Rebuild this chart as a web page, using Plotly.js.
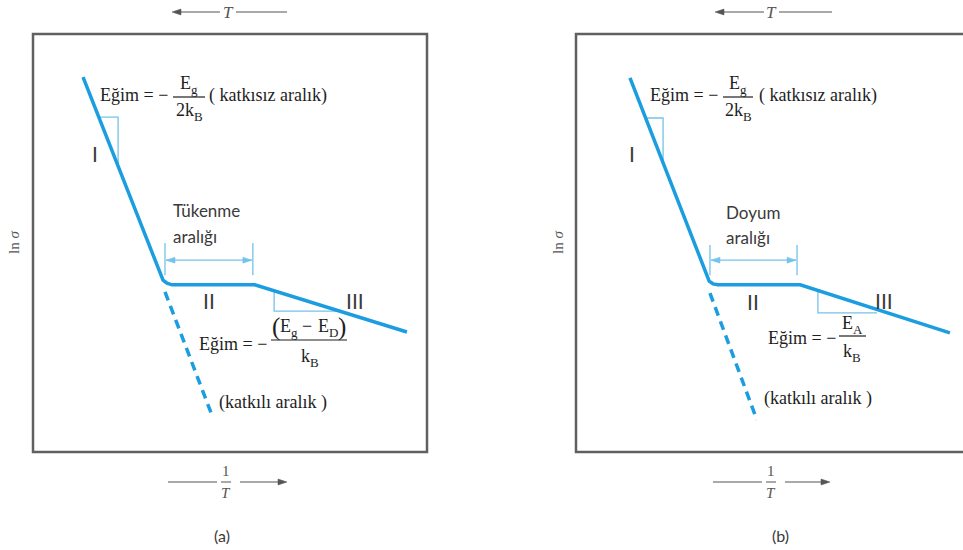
<!DOCTYPE html>
<html>
<head>
<meta charset="utf-8">
<script src="https://cdn.plot.ly/plotly-3.0.1.min.js"></script>
<style>
  html, body { margin: 0; padding: 0; background: #fff; }
  #chart { width: 963px; height: 550px; }
</style>
</head>
<body>
<div id="chart"></div>
<script>
// ---- conductivity curves, 1/T (arb. units) vs ln sigma (arb. units) ----
// panel (a): intrinsic -> depletion (tükenme) -> extrinsic donor region
const invT_a   = [1.27, 3.22, 3.30, 3.40, 3.53, 5.63, 9.49];
const lnSig_a  = [8.97, 4.26, 4.11, 4.04, 4.00, 4.00, 2.87];
const invT_aD  = [3.35, 4.57];          // dashed extension (katkılı aralık)
const lnSig_aD = [3.83, 0.81];
const slopeI_a_x   = [1.65, 2.16, 2.16];
const slopeI_a_y   = [8.01, 8.01, 6.82];
const slopeIII_a_x = [6.12, 6.12, 7.77];
const slopeIII_a_y = [3.85, 3.37, 3.37];
const span_a_x = [3.35, 5.58];          // tükenme aralığı bounds
const span_a_y = [5.00, 4.23];
const span_a_arrowY = 4.59;

// panel (b): intrinsic -> saturation (doyum) -> extrinsic acceptor region
const invT_b   = [1.37, 3.30, 3.38, 3.48, 3.60, 5.69, 9.49];
const lnSig_b  = [8.95, 4.23, 4.09, 4.02, 4.00, 4.00, 2.85];
const invT_bD  = [3.40, 4.59];
const lnSig_bD = [3.80, 0.77];
const slopeI_b_x   = [1.75, 2.21, 2.21];
const slopeI_b_y   = [7.99, 7.99, 6.91];
const slopeIII_b_x = [6.14, 6.14, 7.64];
const slopeIII_b_y = [3.85, 3.33, 3.33];
const span_b_x = [3.40, 5.61];
const span_b_y = [4.95, 4.23];
const span_b_arrowY = 4.59;

const regionLabels = ['I', 'II', 'III'];

// ---- page geometry (paper == pixels) ----
const W = 963, H = 550;
const px = x => x / W;
const py = y => 1 - y / H;

const BOX_TOP = 34, BOX_BOT = 452, BOX_W = 394, BOX_H = BOX_BOT - BOX_TOP;
const A_LEFT = 33, B_LEFT = 576;
const UNITS = 10;                    // axis span over one full box width/height
const unitPx = BOX_W / UNITS;
const unitPy = BOX_H / UNITS;

const BLUE = '#1b9de0';
const GUIDE = '#74c3e8';
const INK = '#1e1e1e';
const SANS_INK = '#3a3a3a';
const GRAY = '#555555';
const SERIF_NAME = 'Liberation Serif';
const SERIF = 'Liberation Serif, Times New Roman, serif';
const SANS = 'Lato, Liberation Sans, sans-serif';

function axis(left) {
  const right = Math.min(left + BOX_W, W);
  return { domain: [px(left), px(right)], range: [0, (right - left) / unitPx], visible: false, fixedrange: true };
}
function yaxis() {
  return { domain: [py(BOX_BOT), py(BOX_TOP)], range: [0, UNITS], visible: false, fixedrange: true };
}

function panelTraces(xa, ya, curveX, curveY, dashX, dashY, sIx, sIy, sIIIx, sIIIy, spanX, spanY) {
  return [
    { x: sIx, y: sIy, xaxis: xa, yaxis: ya, mode: 'lines', line: { color: GUIDE, width: 1.3 }, hoverinfo: 'skip' },
    { x: sIIIx, y: sIIIy, xaxis: xa, yaxis: ya, mode: 'lines', line: { color: GUIDE, width: 1.3 }, hoverinfo: 'skip' },
    { x: [spanX[0], spanX[0], null, spanX[1], spanX[1]],
      y: [spanY[0], spanY[1], null, spanY[0], spanY[1]],
      xaxis: xa, yaxis: ya, mode: 'lines', line: { color: GUIDE, width: 1.3 }, hoverinfo: 'skip' },
    { x: dashX, y: dashY, xaxis: xa, yaxis: ya, mode: 'lines', line: { color: BLUE, width: 3.5, dash: '9px,6px' }, hoverinfo: 'skip' },
    { x: curveX, y: curveY, xaxis: xa, yaxis: ya, mode: 'lines', line: { color: BLUE, width: 3.5 }, hoverinfo: 'skip' }
  ];
}

const traces = []
  .concat(panelTraces('x', 'y', invT_a, lnSig_a, invT_aD, lnSig_aD, slopeI_a_x, slopeI_a_y, slopeIII_a_x, slopeIII_a_y, span_a_x, span_a_y))
  .concat(panelTraces('x2', 'y2', invT_b, lnSig_b, invT_bD, lnSig_bD, slopeI_b_x, slopeI_b_y, slopeIII_b_x, slopeIII_b_y, span_b_x, span_b_y));

// ---- text / arrow helpers ----
function txt(x, y, text, font, extra) {
  return Object.assign({
    xref: 'paper', yref: 'paper', x: px(x), y: py(y), text: text,
    showarrow: false, xanchor: 'center', yanchor: 'middle', font: font,
    borderpad: 0, borderwidth: 0
  }, extra || {});
}
const fSerif = { family: SERIF, size: 18, color: INK };
const fSans = { family: SANS, size: 17, color: SANS_INK };
const fRoman = { family: SANS, size: 21, color: SANS_INK };
const fAxis = { family: SERIF, size: 17, color: GRAY };
const fFrac = { family: SERIF, size: 15, color: GRAY };

const annotations = [];
const shapes = [];

// measure text so formula pieces (base letters, subscripts, big brackets) line up
const mctx = document.createElement('canvas').getContext('2d');
function textWidth(t, size) {
  mctx.font = `${size}px "${SERIF_NAME}"`;
  return mctx.measureText(t).width;
}
// pieces: [text, size, dy] or a number = horizontal gap in px
function mathRun(cx, y, pieces) {
  const widths = pieces.map(p => typeof p === 'number' ? p : textWidth(p[0], p[1]));
  const total = widths.reduce((a, b) => a + b, 0);
  let x = cx - total / 2;
  pieces.forEach((p, i) => {
    if (typeof p !== 'number') {
      annotations.push(txt(x, y + (p[2] || 0), p[0], { family: SERIF, size: p[1], color: INK }, { xanchor: 'left' }));
    }
    x += widths[i];
  });
}
const SUB = 13, SUB_DY = 6;

function hline(x0, x1, y, color, width) {
  shapes.push({ type: 'line', xref: 'paper', yref: 'paper', x0: px(x0), x1: px(x1), y0: py(y), y1: py(y),
                line: { color: color, width: width } });
}
// filled arrowhead with its tip at (x, y); dir = +1 points right, -1 points left
function head(x, y, dir, len, half, color) {
  const b = x - dir * len;
  shapes.push({ type: 'path', xref: 'paper', yref: 'paper',
    path: `M ${px(x)},${py(y)} L ${px(b)},${py(y - half)} L ${px(b)},${py(y + half)} Z`,
    fillcolor: color, line: { color: color, width: 0.5 } });
}
function spanArrow(left, xs, yv) {
  const x0 = left + xs[0] * unitPx, x1 = left + xs[1] * unitPx;
  const y = BOX_BOT - yv * unitPy;
  hline(x0 + 1, x1 - 1, y, GUIDE, 1.3);
  head(x0 + 1, y, -1, 9, 3, GUIDE);
  head(x1 - 1, y, 1, 9, 3, GUIDE);
}

// frames (panel b runs past the right page edge)
[A_LEFT, B_LEFT].forEach(left => {
  shapes.push({ type: 'rect', xref: 'paper', yref: 'paper',
    x0: px(left), x1: px(left + BOX_W), y0: py(BOX_BOT), y1: py(BOX_TOP),
    line: { color: '#606060', width: 2.5 }, fillcolor: 'rgba(0,0,0,0)' });
});

function panelLabels(p) {
  // T axis (top), arrow pointing to higher T
  hline(p.tArrow[0] + 4, p.tArrow[1], 12, GRAY, 1.2);
  head(p.tArrow[0], 12, -1, 9, 3, GRAY);
  hline(p.tLine[0], p.tLine[1], 12, GRAY, 1.2);
  annotations.push(txt(p.tText, 12, '<i>T</i>', fAxis));
  // 1/T axis (bottom)
  hline(p.invLine[0], p.invLine[1], 482, GRAY, 1.2);
  hline(p.invArrow[0], p.invArrow[1] - 4, 482, GRAY, 1.2);
  head(p.invArrow[1], 482, 1, 9, 3, GRAY);
  annotations.push(txt(p.invText, 471, '1', fFrac));
  hline(p.invText - 5, p.invText + 5, 482, GRAY, 1);
  annotations.push(txt(p.invText, 493, '<i>T</i>', fFrac));
  // ln sigma
  annotations.push(txt(p.lnX, 243, 'ln <i>σ</i>', { family: SERIF, size: 15, color: GRAY }, { textangle: -90 }));
  // panel tag
  annotations.push(txt(p.tagX, 535, p.tag, { family: SANS, size: 16, color: SANS_INK }));
  // region numerals
  annotations.push(txt(p.I[0], p.I[1], regionLabels[0], fRoman));
  annotations.push(txt(p.II[0], p.II[1], regionLabels[1], fRoman));
  annotations.push(txt(p.III[0], p.III[1], regionLabels[2], fRoman));
  // intrinsic slope formula: −Eg / 2kB
  annotations.push(txt(p.top.left, 95, 'Eğim = −', fSerif, { xanchor: 'left' }));
  hline(p.top.bar[0], p.top.bar[1], 97, INK, 1.2);
  const c = (p.top.bar[0] + p.top.bar[1]) / 2;
  mathRun(c, 83, [['E', 18], ['g', SUB, SUB_DY]]);
  mathRun(c, 110, [['2k', 18], ['B', SUB, SUB_DY]]);
  annotations.push(txt(p.top.note, 95, '( katkısız aralık)', fSerif, { xanchor: 'left' }));
  // region name
  annotations.push(txt(p.name.x, p.name.y1, p.name.l1, fSans, { xanchor: 'left' }));
  annotations.push(txt(p.name.x, p.name.y2, 'aralığı', fSans, { xanchor: 'left' }));
  // extrinsic note
  annotations.push(txt(p.doped[0], p.doped[1], '(katkılı aralık )', fSerif, { xanchor: 'left' }));
}

panelLabels({
  tArrow: [172, 220], tLine: [236, 287], tText: 228,
  invLine: [168, 217], invArrow: [240, 287], invText: 226,
  lnX: 14, tagX: 222, tag: '(a)',
  I: [95, 153], II: [209, 300], III: [355, 300],
  top: { left: 100, bar: [173, 205], note: 209 },
  name: { x: 173, y1: 210, y2: 236, l1: 'Tükenme' },
  doped: [219, 402]
});
panelLabels({
  tArrow: [715, 764], tLine: [779, 832], tText: 771,
  invLine: [713, 762], invArrow: [785, 830], invText: 771,
  lnX: 558, tagX: 780, tag: '(b)',
  I: [632, 153], II: [753, 301], III: [884, 300],
  top: { left: 650, bar: [723, 753], note: 759 },
  name: { x: 726, y1: 213, y2: 237, l1: 'Doyum' },
  doped: [764, 398]
});

// panel (a) extrinsic slope: −(Eg − ED) / kB
annotations.push(txt(199, 344, 'Eğim = −', fSerif, { xanchor: 'left' }));
hline(271, 347, 340, INK, 1.2);
mathRun(309, 326, [['(', 25, 1], ['E', 18], ['g', SUB, SUB_DY], 5, ['−', 18], 5, ['E', 18], ['D', SUB, SUB_DY], [')', 25, 1]]);
mathRun(310, 356, [['k', 18], ['B', SUB, SUB_DY]]);

// panel (b) extrinsic slope: −EA / kB
annotations.push(txt(768, 338, 'Eğim = −', fSerif, { xanchor: 'left' }));
hline(839, 866, 336, INK, 1.2);
mathRun(852, 323, [['E', 18], ['A', SUB, SUB_DY]]);
mathRun(852, 351, [['k', 18], ['B', SUB, SUB_DY]]);

// tükenme / doyum span arrows
spanArrow(A_LEFT, span_a_x, span_a_arrowY);
spanArrow(B_LEFT, span_b_x, span_b_arrowY);

const layout = {
  width: W, height: H,
  margin: { l: 0, r: 0, t: 0, b: 0, pad: 0 },
  paper_bgcolor: '#ffffff', plot_bgcolor: 'rgba(0,0,0,0)',
  showlegend: false,
  xaxis: axis(A_LEFT), yaxis: yaxis(),
  xaxis2: Object.assign(axis(B_LEFT), { anchor: 'y2' }),
  yaxis2: Object.assign(yaxis(), { anchor: 'x2' }),
  annotations: annotations,
  shapes: shapes
};

Plotly.newPlot('chart', traces, layout, { staticPlot: true, displayModeBar: false });
</script>
</body>
</html>
